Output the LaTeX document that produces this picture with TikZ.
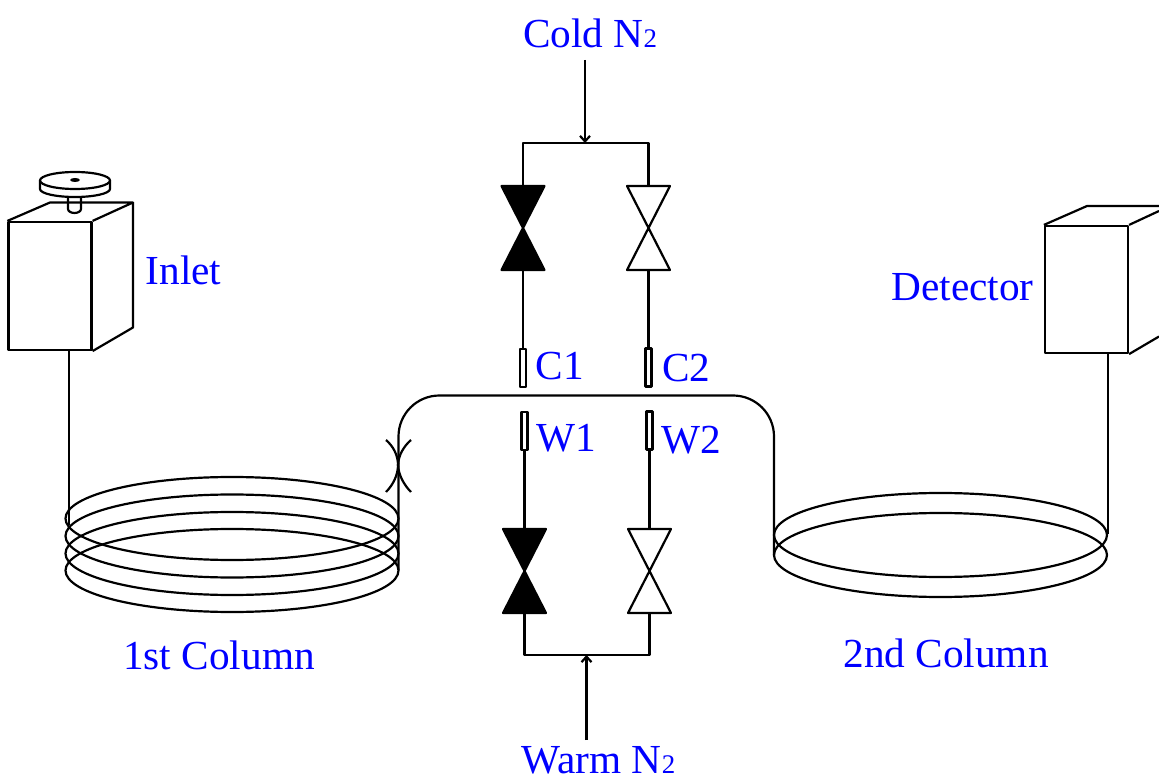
\documentclass[tikz,border=0pt]{standalone}
\usepackage{fontspec}
\setmainfont{Liberation Serif}
\usetikzlibrary{arrows.meta}
\definecolor{labelblue}{RGB}{0,0,255}
\newcommand{\subtwo}{{\fontsize{15.3}{15}\selectfont 2}}
\tikzset{
  lab/.style={text=labelblue,inner sep=0pt,font=\fontsize{23.5}{28}\selectfont},
  trap/.style={draw,fill=white,inner sep=0pt,minimum width=.12cm,minimum height=.76cm},
  feed/.style={-{Straight Barb[length=1.1mm,width=2mm]}}
}
\begin{document}
\begin{tikzpicture}
  [x=.02cm,y=-.02cm,line width=1.25pt,line join=round]
  \useasboundingbox (0,0) rectangle (1159,776);

  % labels
  \node[lab,anchor=base] (coldlab) at (590,48)  {Cold N\subtwo};
  \node[lab,anchor=base] (warmlab) at (598.5,773) {Warm N\subtwo};
  \node[lab] (inletlab) at (183.5,270) {Inlet};
  \node[lab] (detlab) at (962.5,287) {Detector};
  \node[lab] (col1lab) at (219,655) {1st Column};
  \node[lab] (col2lab) at (946,653) {2nd Column};
  \node[lab] (c1lab) at (560,366) {C1};
  \node[lab] (c2lab) at (686.5,368) {C2};
  \node[lab] (w1lab) at (566,438) {W1};
  \node[lab] (w2lab) at (691.5,440) {W2};

  % inlet box with septum
  \node[draw,inner sep=0pt,minimum width=1.66cm,minimum height=2.56cm] (inlet) at (50,286) {};
  \draw (inlet.north west) -- (50,202.5) -- (133,202.5) -- (inlet.north east);
  \draw (133,202.5) -- (133,327.5) -- (inlet.south east);
  \draw (68,196) -- (68,209) arc[start angle=180,end angle=360,x radius=6.5,y radius=-4] -- (81,196);
  \draw[fill=white] (40,181) -- (40,189) arc[start angle=180,end angle=360,x radius=35,y radius=-8] -- (110,181);
  \draw[fill=white] (75,180.5) ellipse[x radius=35,y radius=8.5];
  \fill (75,180) ellipse[x radius=5,y radius=2];

  % detector box
  \node[draw,inner sep=0pt,minimum width=1.66cm,minimum height=2.54cm] (det) at (1086.5,289.5) {};
  \draw (det.north west) -- (1087,206) -- (1159,206);
  \draw (det.north east) -- (1159,211);
  \draw (det.south east) -- (1159,336.5);

  % columns
  \foreach \yy in {518.5,536,553.5,570.5}
    \draw (232,\yy) ellipse[x radius=166.5,y radius=41.5];
  \foreach \yy in {535,555}
    \draw (940.5,\yy) ellipse[x radius=166.5,y radius=42];

  \coordinate (col1in) at (69,525);
  \coordinate (col1out) at (398.5,570);
  \coordinate (col2in) at (774,555);
  \coordinate (col2out) at (1108,534);
  \coordinate (jointop) at (398,465);

  \draw (inlet.south -| col1in) -- (col1in);
  \draw (det.south -| col2out) -- (col2out);
  \draw[rounded corners=.82cm] (col1out) -- (398.5,395.5) -- (774,395.5) -- (col2in);

  % press-fit joint
  \draw (386,440) .. controls (393,446) and (398,455) .. (jointop) .. controls (398,475) and (393,485) .. (386,492);
  \draw (411,440) .. controls (404,446) and (398.5,455) .. (jointop) .. controls (398.5,475) and (404,485) .. (411,492);

  % valves
  \foreach \name/\xx/\yy/\col in {vc1/523/228/black, vc2/648.5/228/white, vw1/524.5/571/black, vw2/649.5/571/white}
  {
    \coordinate (\name t) at (\xx,\yy-42);
    \coordinate (\name b) at (\xx,\yy+42);
    \draw[fill=\col] (\xx,\yy) -- (\xx-21.5,\yy-42) -- (\xx+21.5,\yy-42) -- cycle;
    \draw[fill=\col] (\xx,\yy) -- (\xx-21.5,\yy+42) -- (\xx+21.5,\yy+42) -- cycle;
  }

  % modulator jets
  \node[trap] (c1) at (523,368) {};
  \node[trap] (c2) at (648.5,367.5) {};
  \node[trap] (w1) at (524.5,431) {};
  \node[trap] (w2) at (649.5,430.5) {};

  \foreach \from/\to in {vc1b/c1, vc2b/c2, w1/vw1t, w2/vw2t}
    \draw (\from) -- (\to);

  % gas feeds
  \coordinate (coldtop) at (585,60);
  \coordinate (coldbus) at (585,143);
  \coordinate (warmbot) at (586.5,740);
  \coordinate (warmbus) at (586.5,655);

  \draw (vc1t) -- (523,143) -- (648.5,143) -- (vc2t);
  \draw (vw1b) -- (524.5,655) -- (649.5,655) -- (vw2b);
  \draw[feed] (coldtop) -- (coldbus);
  \draw[feed] (warmbot) -- (warmbus);
\end{tikzpicture}
\end{document}
